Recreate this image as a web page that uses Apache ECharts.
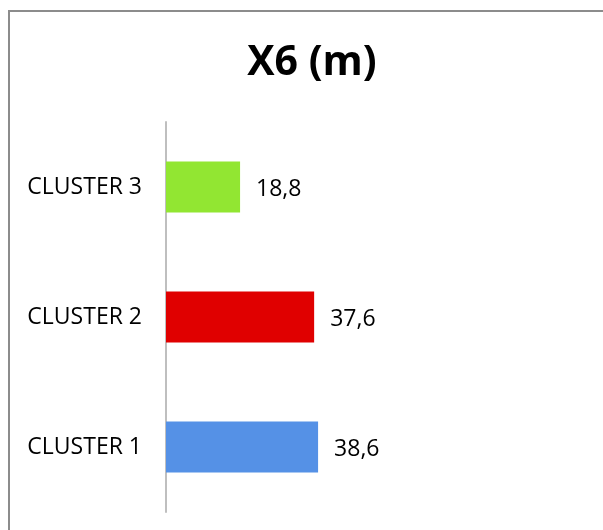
<!DOCTYPE html>
<html>
<head>
<meta charset="utf-8">
<script src="https://cdn.jsdelivr.net/npm/echarts@6/dist/echarts.min.js"></script>
<style>
  html, body { margin: 0; padding: 0; background: #fff; }
  #chart { width: 603px; height: 530px; }
</style>
</head>
<body>
<div id="chart"></div>
<script>
// Cluster means of X6, listed bottom to top
const categories = ['CLUSTER 1', 'CLUSTER 2', 'CLUSTER 3'];
const values = [38.6, 37.6, 18.8];
const barColors = ['#5591e6', '#e00000', '#92e632'];
const chartTitle = 'X6 (m)';

const chart = echarts.init(document.getElementById('chart'));
const fontFamily = '"Open Sans", "Liberation Sans", sans-serif';

chart.setOption({
  animation: false,
  backgroundColor: '#fff',
  graphic: [{
    type: 'rect',
    shape: { x: 9, y: 11, width: 620, height: 540 },
    style: { fill: 'none', stroke: '#8c8c8c', lineWidth: 2 },
    silent: true
  }, {
    type: 'text',
    x: 312,
    y: 63,
    style: {
      text: chartTitle,
      textAlign: 'center',
      textVerticalAlign: 'middle',
      font: 'bold 41px ' + fontFamily,
      fill: '#000'
    },
    silent: true
  }],
  grid: { left: 166, top: 122, width: 394, height: 390 },
  xAxis: {
    type: 'value',
    min: 0,
    max: 100,
    show: false
  },
  yAxis: {
    type: 'category',
    data: categories,
    axisLine: { lineStyle: { color: '#bfbfbf', width: 2 } },
    axisTick: { show: false },
    axisLabel: { fontFamily, fontSize: 23, color: '#000', margin: 24 }
  },
  series: [{
    type: 'bar',
    barWidth: 51,
    data: values.map((v, i) => ({ value: v, itemStyle: { color: barColors[i] } })),
    label: {
      show: true,
      position: 'right',
      distance: 16,
      offset: [0, 2],
      fontFamily,
      fontSize: 23,
      color: '#000',
      formatter: p => String(p.value).replace('.', ',')
    }
  }]
});
</script>
</body>
</html>
